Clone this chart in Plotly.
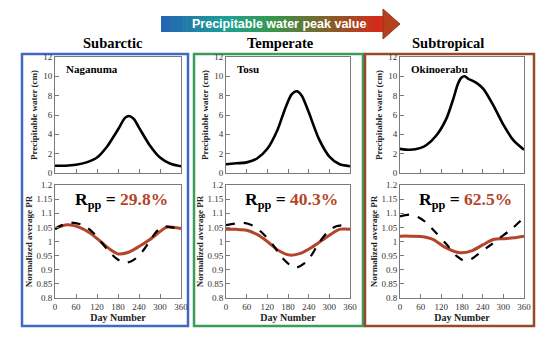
import plotly.graph_objects as go

# ---------------- data ----------------
climates = ["Subarctic", "Temperate", "Subtropical"]
stations = ["Naganuma", "Tosu", "Okinoerabu"]
rpp_values = ["29.8%", "40.3%", "62.5%"]
day_ticks = [0, 60, 120, 180, 240, 300, 360]
pw_ticks = [0, 2, 4, 6, 8, 10, 12]
pr_ticks = [0.8, 0.85, 0.9, 0.95, 1.0, 1.05, 1.1, 1.15, 1.2]
pr_tick_labels = ["0.8", "0.85", "0.9", "0.95", "1", "1.05", "1.1", "1.15", "1.2"]

pw_days_1 = [0, 30, 60, 90, 120, 150, 180, 200, 212, 225, 240, 270, 300, 330, 360]
pw_vals_1 = [0.75, 0.75, 0.85, 1.1, 1.6, 2.8, 4.5, 5.7, 5.9, 5.6, 4.7, 2.9, 1.6, 0.95, 0.7]
pw_days_2 = [0, 30, 60, 90, 120, 150, 170, 190, 205, 220, 240, 270, 300, 330, 360]
pw_vals_2 = [0.9, 1.0, 1.1, 1.5, 2.5, 4.5, 6.5, 8.1, 8.45, 8.0, 6.3, 3.5, 1.7, 0.9, 0.7]
pw_days_3 = [0, 29, 60, 77, 106, 135, 155, 168, 178, 188, 198, 210, 225, 242, 271, 300, 329, 360]
pw_vals_3 = [2.5, 2.4, 2.6, 2.9, 3.9, 5.65, 7.7, 9.2, 9.85, 10.0, 9.75, 9.55, 9.25, 8.7, 7.0, 5.0, 3.4, 2.4]

dash_days_1 = [0, 20, 44, 80, 110, 148, 175, 200, 225, 250, 270, 290, 308, 335, 360]
dash_vals_1 = [1.044, 1.058, 1.067, 1.058, 1.030, 0.974, 0.940, 0.924, 0.935, 0.965, 1.0, 1.035, 1.053, 1.050, 1.044]
solid_days_1 = [0, 35, 70, 100, 130, 160, 181, 210, 240, 270, 300, 318, 340, 360]
solid_vals_1 = [1.046, 1.059, 1.050, 1.030, 1.000, 0.970, 0.956, 0.962, 0.982, 1.006, 1.035, 1.050, 1.050, 1.046]

dash_days_2 = [0, 25, 51, 80, 110, 137, 165, 200, 235, 272, 300, 320, 340, 360]
dash_vals_2 = [1.058, 1.063, 1.066, 1.055, 1.025, 0.987, 0.940, 0.907, 0.930, 0.999, 1.040, 1.054, 1.058, 1.058]
solid_days_2 = [0, 30, 60, 90, 120, 150, 185, 220, 250, 280, 310, 329, 345, 360]
solid_vals_2 = [1.043, 1.043, 1.040, 1.025, 1.000, 0.970, 0.952, 0.960, 0.980, 1.005, 1.030, 1.043, 1.044, 1.043]

dash_days_3 = [0, 29, 55, 77, 105, 135, 164, 189, 210, 232, 260, 290, 325, 360]
dash_vals_3 = [1.089, 1.095, 1.085, 1.066, 1.030, 0.990, 0.949, 0.931, 0.940, 0.960, 0.985, 1.013, 1.045, 1.085]
solid_days_3 = [0, 30, 60, 97, 130, 174, 210, 240, 271, 300, 330, 360]
solid_vals_3 = [1.019, 1.019, 1.018, 1.007, 0.980, 0.960, 0.968, 0.988, 1.007, 1.010, 1.013, 1.019]

pw_days = [pw_days_1, pw_days_2, pw_days_3]
pw_vals = [pw_vals_1, pw_vals_2, pw_vals_3]
dash_days = [dash_days_1, dash_days_2, dash_days_3]
dash_vals = [dash_vals_1, dash_vals_2, dash_vals_3]
solid_days = [solid_days_1, solid_days_2, solid_days_3]
solid_vals = [solid_vals_1, solid_vals_2, solid_vals_3]

# ---------------- layout geometry ----------------
# The page body has an 8px margin, so the figure is drawn at (8, 8).
OFF = 8
W, H = 550 - 2 * OFF, 345 - 2 * OFF
def px(x): return (x - OFF) / W
def py(y): return 1 - (y - OFF) / H

plot_x = [(55, 181), (226, 350), (400, 524)]
top_y = (57, 173)
bot_y = (185, 298)
box_x = [(22, 188), (194, 363), (365, 534)]
box_colors = ["#4169c0", "#3c9c5c", "#964b28"]
title_x = [113, 280, 448]

SERIF = "Liberation Serif"
RED = "#b4452a"

fig = go.Figure()
layout = dict(width=W, height=H, margin=dict(l=0, r=0, t=0, b=0, autoexpand=False),
              paper_bgcolor="white", plot_bgcolor="white", showlegend=False,
              font=dict(family=SERIF))

annotations = []
shapes = []

for i in range(3):
    xt = 2 * i + 1
    xb = 2 * i + 2
    xk_t = "x" if xt == 1 else f"x{xt}"
    yk_t = "y" if xt == 1 else f"y{xt}"
    xk_b, yk_b = f"x{xb}", f"y{xb}"
    dom_x = [px(plot_x[i][0]), px(plot_x[i][1])]
    axis_common = dict(showgrid=False, zeroline=False, showline=True, mirror=True, automargin=False,
                       linecolor="#7a7a7a", linewidth=1, ticks="inside", ticklen=4,
                       tickcolor="#7a7a7a", tickfont=dict(family=SERIF, size=9, color="#333"))
    layout["xaxis" if xt == 1 else f"xaxis{xt}"] = dict(
        domain=dom_x, anchor=yk_t, range=[0, 360], tickvals=day_ticks,
        showticklabels=False, **axis_common)
    layout["yaxis" if xt == 1 else f"yaxis{xt}"] = dict(
        domain=[py(top_y[1]), py(top_y[0])], anchor=xk_t, range=[0, 12], tickvals=pw_ticks,
        title=dict(text="<b>Precipitable water (cm)</b>", font=dict(family=SERIF, size=9, color="#222"), standoff=4),
        **axis_common)
    layout[f"xaxis{xb}"] = dict(
        domain=dom_x, anchor=yk_b, range=[0, 360], tickvals=day_ticks,
        title=dict(text="<b>Day Number</b>", font=dict(family=SERIF, size=10, color="#222"), standoff=2),
        **axis_common)
    layout[f"yaxis{xb}"] = dict(
        domain=[py(bot_y[1]), py(bot_y[0])], anchor=xk_b, range=[0.8, 1.2], tickvals=pr_ticks,
        ticktext=pr_tick_labels,
        title=dict(text="<b>Normalized average PR</b>", font=dict(family=SERIF, size=9, color="#222"), standoff=2),
        **axis_common)

    fig.add_trace(go.Scatter(x=pw_days[i], y=pw_vals[i], mode="lines", xaxis=xk_t, yaxis=yk_t,
                             line=dict(color="black", width=2.6, shape="spline", smoothing=0.7)))
    fig.add_trace(go.Scatter(x=solid_days[i], y=solid_vals[i], mode="lines", xaxis=xk_b, yaxis=yk_b,
                             line=dict(color=RED, width=3, shape="spline", smoothing=0.8)))
    fig.add_trace(go.Scatter(x=dash_days[i], y=dash_vals[i], mode="lines", xaxis=xk_b, yaxis=yk_b,
                             line=dict(color="black", width=2.2, dash="dash", shape="spline", smoothing=0.8)))

    # panel box
    shapes.append(dict(type="rect", xref="paper", yref="paper",
                       x0=px(box_x[i][0]), x1=px(box_x[i][1]), y0=py(326), y1=py(54),
                       line=dict(color=box_colors[i], width=2.5), fillcolor="rgba(0,0,0,0)", layer="below"))
    # climate title
    annotations.append(dict(xref="paper", yref="paper", x=px(title_x[i]), y=py(43),
                            xanchor="center", yanchor="middle",
                            text=f"<b>{climates[i]}</b>", showarrow=False,
                            font=dict(family=SERIF, size=14.5, color="black")))
    # station name
    annotations.append(dict(xref=f"{xk_t} domain", yref=f"{yk_t} domain", x=0.07, y=0.9,
                            xanchor="left", yanchor="middle", text=f"<b>{stations[i]}</b>",
                            showarrow=False, font=dict(family=SERIF, size=11, color="black")))
    # Rpp
    annotations.append(dict(xref=f"{xk_b} domain", yref=f"{yk_b} domain", x=0.53, y=0.86,
                            xanchor="center", yanchor="middle",
                            text=f"<b>R<sub>pp</sub> = <span style='color:{RED}'>{rpp_values[i]}</span></b>",
                            showarrow=False, font=dict(family=SERIF, size=17.5, color="black")))

# gradient arrow
stops = [(0.0, (35, 100, 180)), (0.3, (30, 160, 150)), (0.5, (55, 150, 75)),
         (0.75, (130, 95, 40)), (1.0, (222, 35, 25))]
def grad(t):
    for (t0, c0), (t1, c1) in zip(stops[:-1], stops[1:]):
        if t0 <= t <= t1:
            f = (t - t0) / (t1 - t0)
            return "rgb(%d,%d,%d)" % tuple(round(a + (b - a) * f) for a, b in zip(c0, c1))
    return "rgb(%d,%d,%d)" % stops[-1][1]
ax0, ax1, ay0, ay1 = 161, 384, 16, 32
n = 80
for k in range(n):
    x0 = ax0 + (ax1 - ax0) * k / n
    x1 = ax0 + (ax1 - ax0) * (k + 1) / n + 0.6
    shapes.append(dict(type="rect", xref="paper", yref="paper", x0=px(x0), x1=px(x1),
                       y0=py(ay1), y1=py(ay0), line=dict(width=0), fillcolor=grad((k + 0.5) / n),
                       layer="below"))
shapes.append(dict(type="path", xref="paper", yref="paper", layer="below",
                   path=f"M {px(383)} {py(9)} L {px(400)} {py(24)} L {px(383)} {py(39)} Z",
                   fillcolor="#b8401e", line=dict(color="#8a3a1a", width=1)))
annotations.append(dict(xref="paper", yref="paper", x=px(279), y=py(24), xanchor="center", yanchor="middle",
                        text="<b>Precipitable water peak value</b>",
                        showarrow=False, font=dict(family="Liberation Sans", size=12.5, color="white")))

layout["annotations"] = annotations
layout["shapes"] = shapes
fig.update_layout(**layout)
fig.write_html("out.html")
